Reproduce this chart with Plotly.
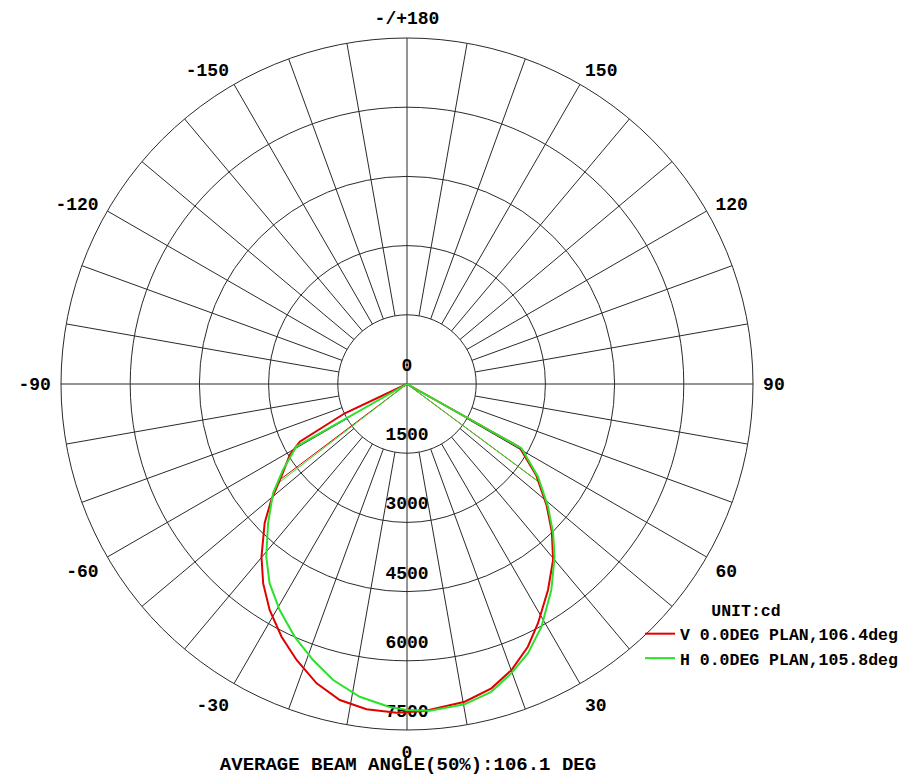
import plotly.graph_objects as go

# ---- data (angle in deg, 0 = down, + = right; intensity in cd)
v_theta = [-90, -64.8, -61.7, -58.8, -53.6, -49.5, -45.7, -40.1, -35.8, -31.3, -26.4, -21.8,
           -16.8, -12.0, -7.1, -1.8, 3.1, 10.3, 15.5, 20.1, 24.7, 28.7, 34.4, 39.7, 44.4,
           49.0, 54.7, 60.7, 90]
v_cd = [0, 1490, 2640, 2972, 3384, 3867, 4311, 4897, 5330, 5731, 6117, 6444,
        6778, 7004, 7105, 7129, 7099, 6999, 6845, 6600, 6269, 5913, 5410, 4957, 4487,
        4010, 3436, 2796, 0]

h_theta = [-90, -60.5, -55.3, -50.8, -44.9, -39.2, -34.6, -29.4, -24.0, -18.8, -14.0, -8.6,
           -3.1, 0.0, 4.0, 10.2, 15.3, 19.8, 24.2, 29.0, 35.0, 40.5, 44.4, 49.0, 54.7, 60.7, 90]
h_cd = [0, 2755, 3271, 3748, 4266, 4827, 5246, 5623, 5993, 6321, 6613, 6856,
        7012, 7066, 7099, 7055, 6917, 6668, 6399, 6013, 5454, 4925, 4526, 4051, 3479, 2844, 0]

# 50% beam-angle marker lines
v_beam_theta = [-53.0, 0, 53.4]
v_beam_cd = [3403, 0, 3520]
h_beam_theta = [-52.4, 0, 53.4]
h_beam_cd = [3551, 0, 3540]

ring_values = [0, 1500, 3000, 4500, 6000, 7500]
ring_labels = ["0", "1500", "3000", "4500", "6000", "7500"]
angle_ticks = [0, 30, 60, 90, 120, 150, 180, 210, 240, 270, 300, 330]
angle_labels = ["0", "30", "60", "90", "120", "150", "-/+180", "-150", "-120", "-90", "-60", "-30"]
spoke_angles = [a for a in range(0, 360, 10) if a % 90 != 0]
axis_angles = [0, 90]

series_names = ["V 0.0DEG PLAN,106.4deg", "H 0.0DEG PLAN,105.8deg"]
title_text = "AVERAGE BEAM ANGLE(50%):106.1 DEG"
unit_text = "UNIT:cd"

RED = "#e00000"
GREEN = "#2ee02e"
GRID = "#2a2a2a"
FONT = "Liberation Mono"

R_MIN_SPOKE = ring_values[1]
R_MAX = ring_values[-1]

# page body has an 8px default margin -> figure drawn 8px in from the window edge
W, H = 900, 766
OFF = 8


def px_x(X):
    return (X - OFF) / W


def px_y(Y):
    return 1 - (Y - OFF) / H


fig = go.Figure()

# spokes starting at the inner ring
sp_t, sp_r = [], []
for a in spoke_angles:
    sp_t += [a, a, None]
    sp_r += [R_MIN_SPOKE, R_MAX, None]
fig.add_trace(go.Scatterpolar(theta=sp_t, r=sp_r, mode="lines",
                              line=dict(color=GRID, width=1), showlegend=False,
                              hoverinfo="skip", connectgaps=False))
# main axes through the centre
ax_t, ax_r = [], []
for a in axis_angles:
    ax_t += [a, a, a + 180, None]
    ax_r += [R_MAX, 0, R_MAX, None]
fig.add_trace(go.Scatterpolar(theta=ax_t, r=ax_r, mode="lines",
                              line=dict(color=GRID, width=1), showlegend=False,
                              hoverinfo="skip", connectgaps=False))

# radial labels along the 0 deg axis
fig.add_trace(go.Scatterpolar(theta=[0] * len(ring_values), r=ring_values, mode="markers+text",
                              text=ring_labels, textposition="top center",
                              marker=dict(size=12, color="rgba(0,0,0,0)"),
                              textfont=dict(family=FONT, size=18, color="black", weight="bold"),
                              showlegend=False, hoverinfo="skip"))

# beam marker lines
fig.add_trace(go.Scatterpolar(theta=v_beam_theta, r=v_beam_cd, mode="lines",
                              line=dict(color=RED, width=1), showlegend=False, hoverinfo="skip"))
fig.add_trace(go.Scatterpolar(theta=h_beam_theta, r=h_beam_cd, mode="lines",
                              line=dict(color=GREEN, width=1), showlegend=False, hoverinfo="skip"))

# curves
fig.add_trace(go.Scatterpolar(theta=v_theta, r=v_cd, mode="lines", name=series_names[0],
                              line=dict(color=RED, width=2)))
fig.add_trace(go.Scatterpolar(theta=h_theta, r=h_cd, mode="lines", name=series_names[1],
                              line=dict(color=GREEN, width=2)))

fig.update_layout(
    width=W, height=H,
    margin=dict(l=0, r=0, t=0, b=0, autoexpand=False),
    paper_bgcolor="white",
    showlegend=True,
    polar=dict(
        domain=dict(x=[px_x(61), px_x(753)], y=[px_y(730), px_y(38)]),
        bgcolor="white",
        angularaxis=dict(
            rotation=-90, direction="counterclockwise",
            tickmode="array", tickvals=angle_ticks, ticktext=angle_labels,
            showgrid=False, showline=True, linecolor=GRID, linewidth=1,
            ticks="outside", ticklen=6, tickcolor="rgba(0,0,0,0)",
            tickfont=dict(family=FONT, size=18, color="black", weight="bold"),
        ),
        radialaxis=dict(
            range=[0, R_MAX], tickmode="array", tickvals=ring_values[1:],
            showticklabels=False, ticks="", showline=False,
            showgrid=True, gridcolor=GRID, gridwidth=1, layer="below traces",
        ),
    ),
    title=dict(text=title_text, x=px_x(408), xanchor="center", xref="paper",
               y=px_y(763), yanchor="middle", yref="paper",
               font=dict(family=FONT, size=19, color="black", weight="bold")),
    legend=dict(
        x=px_x(640), y=px_y(595), xanchor="left", yanchor="top",
        bgcolor="rgba(0,0,0,0)",
        font=dict(family=FONT, size=16.5, color="black", weight="bold"),
        title=dict(text="\u00a0" * 7 + unit_text,
                   font=dict(family=FONT, size=16.5, color="black", weight="bold")),
        tracegroupgap=0,
    ),
)

fig.write_html("out.html")
